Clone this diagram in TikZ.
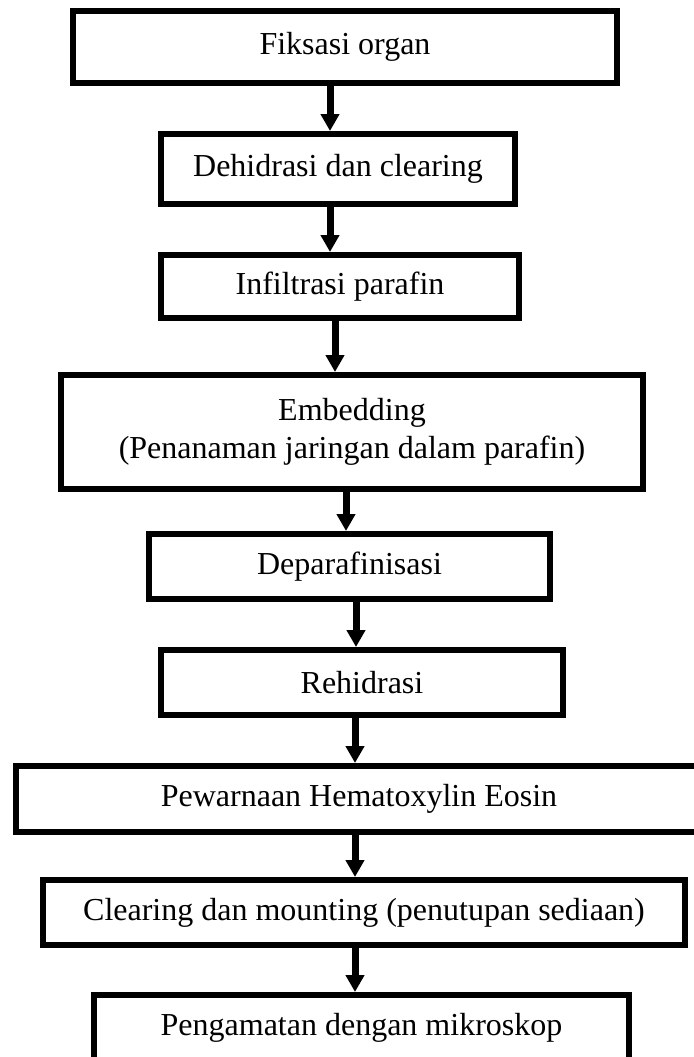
\documentclass[tikz,border=0pt]{standalone}
\usepackage{fontspec}
\setmainfont{Liberation Serif}
\usepackage{tikz}
\usetikzlibrary{arrows.meta,positioning,calc}

\tikzset{
  stepbox/.style={draw,rectangle,line width=3pt,align=center,
    font=\fontsize{16}{19}\selectfont},
  arr/.style={line width=3.5pt,-{Triangle[width=9pt,length=8.5pt]}}
}

\begin{document}
\begin{tikzpicture}[node distance=22.5pt]
  \useasboundingbox[fill=white] (0,0) rectangle (347pt,-528.5pt);
  \node [stepbox,minimum width=272pt,minimum height=36pt] (fiksasi) at (172.5pt,-23.5pt) {Fiksasi organ};
  \node [stepbox,minimum width=177pt,minimum height=35pt,below=of fiksasi,xshift=-3.5pt] (dehidrasi) {Dehidrasi dan clearing};
  \node [stepbox,minimum width=179pt,minimum height=31.5pt,below=of dehidrasi,xshift=1pt] (infiltrasi) {Infiltrasi parafin};
  \node [stepbox,minimum width=291pt,minimum height=57pt,below=25.5pt of infiltrasi,xshift=6pt] (embedding)
    {Embedding\\(Penanaman jaringan dalam parafin)};
  \node [stepbox,minimum width=200.5pt,minimum height=32.5pt,below=19.5pt of embedding,xshift=-1.25pt] (deparaf) {Deparafinisasi};
  \node [stepbox,minimum width=201pt,minimum height=32.5pt,below=of deparaf,xshift=6.25pt] (rehidrasi) {Rehidrasi};
  \node [stepbox,minimum width=343pt,minimum height=33pt,below=of rehidrasi,xshift=-1.5pt] (pewarnaan) {Pewarnaan Hematoxylin Eosin};
  \node [stepbox,minimum width=321pt,minimum height=32.5pt,below=21pt of pewarnaan,xshift=2.5pt] (mounting) {Clearing dan mounting (penutupan sediaan)};
  \node [stepbox,minimum width=267.5pt,minimum height=32.5pt,below=22pt of mounting,xshift=-1.25pt] (pengamatan) {Pengamatan dengan mikroskop};
  % arrows between the steps
  \foreach \a/\b/\s in {fiksasi/dehidrasi/-7.5pt, dehidrasi/infiltrasi/-4pt,
      infiltrasi/embedding/-2.5pt, embedding/deparaf/-3pt, deparaf/rehidrasi/3.25pt,
      rehidrasi/pewarnaan/-3.5pt, pewarnaan/mounting/-2pt, mounting/pengamatan/-4.5pt}
    \draw [arr] ($(\a.south)+(\s,0)$) -- ($(\a.south |- \b.north)+(\s,0)$);
\end{tikzpicture}
\end{document}
